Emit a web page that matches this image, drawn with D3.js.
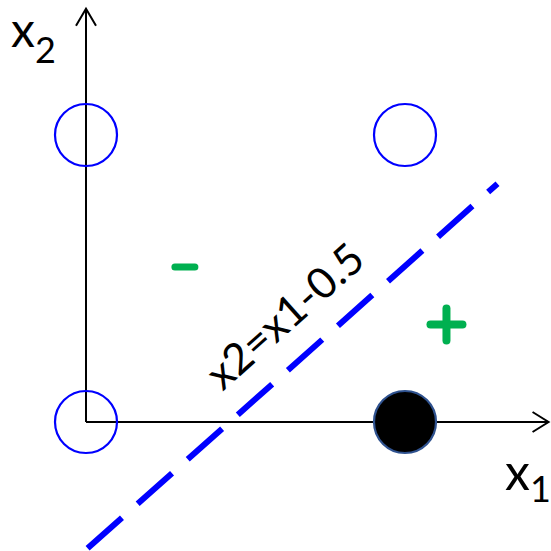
<!DOCTYPE html>
<html>
<head>
<meta charset="utf-8">
<script src="https://cdn.jsdelivr.net/npm/d3@7"></script>
<style>
  body { margin: 0; background: #fff; }
  svg { display: block; }
</style>
</head>
<body>
<div id="chart"></div>
<script>
// points of the XOR-style example
const pointX = [0, 0, 1, 1];
const pointY = [0, 1, 1, 0];
const pointFilled = [false, false, false, true];

// separating line as drawn (x2 = x1 - 0.5)
const lineX = [0.005, 1.29];
const lineY = [-0.44, 0.83];
const lineLabel = 'x2=x1-0.5';

// class markers
const signs = [
  { x: 0.31, y: 0.54, sign: '-' },
  { x: 1.13, y: 0.34, sign: '+' }
];

const svg = d3.select('#chart')
  .append('svg')
  .attr('width', 551)
  .attr('height', 551);

const x = d3.scaleLinear().domain([0, 1]).range([86, 405]);
const y = d3.scaleLinear().domain([0, 1]).range([422, 135]);

// axes with open arrowheads
svg.append('line')
  .attr('x1', x(0)).attr('y1', y(0))
  .attr('x2', x(1.45)).attr('y2', y(0))
  .attr('stroke', '#000').attr('stroke-width', 2);

svg.append('line')
  .attr('x1', x(0)).attr('y1', y(0))
  .attr('x2', x(0)).attr('y2', y(1.44))
  .attr('stroke', '#000').attr('stroke-width', 2);

const xt = x(1.45), yt = y(1.44);
svg.append('path')
  .attr('d', `M${xt - 16},${y(0) - 10} L${xt},${y(0)} L${xt - 16},${y(0) + 10}`)
  .attr('fill', 'none').attr('stroke', '#000').attr('stroke-width', 2);
svg.append('path')
  .attr('d', `M${x(0) - 10},${yt + 17} L${x(0)},${yt} L${x(0) + 10},${yt + 17}`)
  .attr('fill', 'none').attr('stroke', '#000').attr('stroke-width', 2);

// axis labels
const x1Label = svg.append('text')
  .attr('x', 505).attr('y', 490)
  .style('font-family', 'Lato, "Open Sans", sans-serif')
  .style('font-size', '50px');
x1Label.append('tspan').text('x');
x1Label.append('tspan').attr('dy', 12).style('font-size', '36px').text('1');

const x2Label = svg.append('text')
  .attr('x', 11).attr('y', 47)
  .style('font-family', 'Lato, "Open Sans", sans-serif')
  .style('font-size', '48px');
x2Label.append('tspan').text('x');
x2Label.append('tspan').attr('dy', 16).style('font-size', '36px').text('2');

// dashed separating line
svg.append('line')
  .attr('x1', x(lineX[0])).attr('y1', y(lineY[0]))
  .attr('x2', x(lineX[1])).attr('y2', y(lineY[1]))
  .attr('stroke', '#0000ff')
  .attr('stroke-width', 6)
  .attr('stroke-dasharray', '46,21');

// line label, rotated along the line
const ang = Math.atan2(y(lineY[1]) - y(lineY[0]), x(lineX[1]) - x(lineX[0])) * 180 / Math.PI;
svg.append('text')
  .attr('transform', `translate(${x(0.655)},${y(0.33)}) rotate(${ang})`)
  .attr('text-anchor', 'middle')
  .style('font-family', 'Lato, "Open Sans", sans-serif')
  .style('font-size', '43px')
  .attr('fill', '#000')
  .text(lineLabel);

// points
svg.selectAll('circle.pt')
  .data(pointX.map((d, i) => ({ x: d, y: pointY[i], filled: pointFilled[i] })))
  .enter().append('circle')
  .attr('class', 'pt')
  .attr('cx', d => x(d.x))
  .attr('cy', d => y(d.y))
  .attr('r', 31)
  .attr('fill', d => d.filled ? '#000' : 'none')
  .attr('stroke', d => d.filled ? '#2f528f' : '#0000ff')
  .attr('stroke-width', 2.2);

// class signs drawn as rounded bars
signs.forEach(s => {
  const cx = x(s.x), cy = y(s.y);
  if (s.sign === '-') {
    svg.append('line')
      .attr('x1', cx - 10).attr('y1', cy).attr('x2', cx + 10).attr('y2', cy)
      .attr('stroke', '#00b050').attr('stroke-width', 7).attr('stroke-linecap', 'round');
  } else {
    svg.append('line')
      .attr('x1', cx - 16).attr('y1', cy).attr('x2', cx + 16).attr('y2', cy)
      .attr('stroke', '#00b050').attr('stroke-width', 8).attr('stroke-linecap', 'round');
    svg.append('line')
      .attr('x1', cx).attr('y1', cy - 16).attr('x2', cx).attr('y2', cy + 16)
      .attr('stroke', '#00b050').attr('stroke-width', 8).attr('stroke-linecap', 'round');
  }
});
</script>
</body>
</html>
